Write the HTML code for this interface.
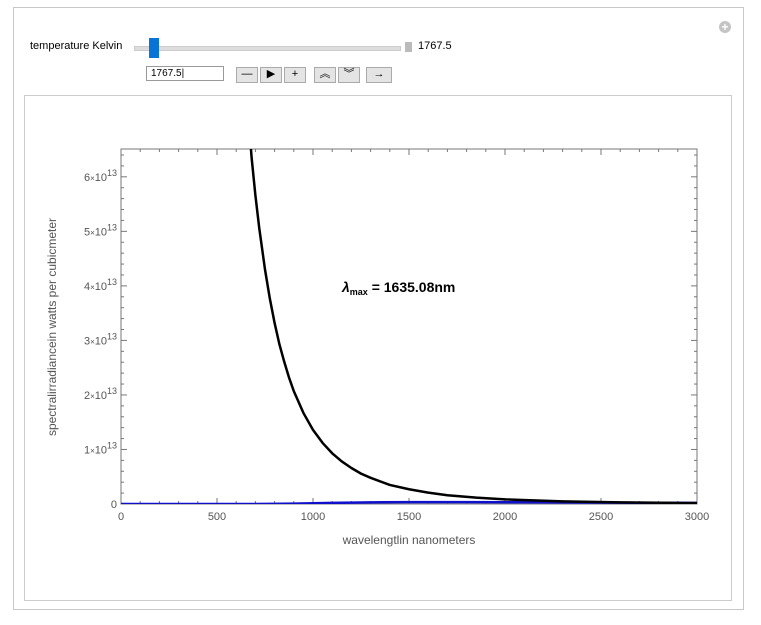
<!DOCTYPE html>
<html><head><meta charset="utf-8"><style>
body{margin:0;background:#fff;font-family:"Liberation Sans",sans-serif;}
#wrap{position:relative;width:761px;height:625px;overflow:hidden;}
.abs{position:absolute;}
.btn{position:absolute;top:67px;height:14px;background:#e4e4e4;border:1px solid #aaa;font-size:11px;line-height:13px;text-align:center;}
</style></head><body><div id="wrap">
<div class="abs" style="left:13px;top:7px;width:729px;height:601px;border:1px solid #c8c8c8;"></div>
<div class="abs" style="left:719px;top:21px;width:12px;height:12px;border-radius:6px;background:#c4c4c4;color:#fff;font-size:12px;line-height:12px;text-align:center;font-weight:bold">+</div>
<div class="abs" style="left:30px;top:40px;font-size:11px;">temperature Kelvin</div>
<div class="abs" style="left:134px;top:46px;width:265px;height:3px;background:#ddd;border:1px solid #ccc"></div>
<div class="abs" style="left:149px;top:38px;width:10px;height:20px;background:#0a74d6"></div>
<div class="abs" style="left:405px;top:42px;width:7px;height:10px;background:#bbb"></div>
<div class="abs" style="left:418px;top:40px;font-size:11px">1767.5</div>
<div class="abs" style="left:146px;top:66px;width:78px;border:1px solid #999;font-size:10px;line-height:14px;padding-left:4px;box-sizing:border-box;height:15px">1767.5|</div>
<div class="btn" style="left:236px;width:20px">—</div>
<div class="btn" style="left:260px;width:20px">▶</div>
<div class="btn" style="left:284px;width:20px">+</div>
<div class="btn" style="left:314px;width:20px">︽</div>
<div class="btn" style="left:338px;width:20px">︾</div>
<div class="btn" style="left:366px;width:24px">→</div>
<div class="abs" style="left:24px;top:95px;width:706px;height:504px;border:1px solid #ccc;"></div>
<svg class="abs" style="left:0;top:0" width="761" height="625" id="chart"></svg>
</div>
<script>
const waveRJ=[650,680,700,720,750,775,800,825,850,875,900,950,1000,1050,1100,1150,1200,1250,1300,1400,1500,1600,1700,1850,2000,2300,2600,3000];
const valRJ=[7.78,6.36,5.66,5.06,4.30,3.77,3.32,2.93,2.61,2.32,2.07,1.67,1.36,1.12,0.93,0.78,0.66,0.557,0.48,0.35,0.27,0.208,0.16,0.116,0.085,0.049,0.030,0.017];
const wavePl=[0,500,700,900,1100,1300,1500,1635,1800,2100,2400,2700,3000];
const valPl=[0,0,0.001,0.008,0.02,0.03,0.034,0.035,0.034,0.031,0.027,0.023,0.02];
const xTicks=[0,500,1000,1500,2000,2500,3000];
const yTicks=[0,1,2,3,4,5,6];
const X0=121,X1=697,Y0=504,YT=149,xMax=3000,yMax=6.51;
const sx=v=>X0+v/xMax*(X1-X0), sy=v=>Y0-v/yMax*(Y0-YT);
const svg=document.getElementById('chart');const NS='http://www.w3.org/2000/svg';
function mk(t,a,p){const e=document.createElementNS(NS,t);for(const k in a)e.setAttribute(k,a[k]);(p||svg).appendChild(e);return e;}
const defs=mk('defs',{});const cp=mk('clipPath',{id:'pc'},defs);mk('rect',{x:X0,y:YT,width:X1-X0,height:Y0-YT},cp);
const fr=mk('rect',{x:X0,y:YT,width:X1-X0,height:Y0-YT,fill:'none',stroke:'#777'});


for(let v=0;v<=3000;v+=100){const x=sx(v),l=v%500?3:6;mk('line',{x1:x,x2:x,y1:Y0,y2:Y0-l,stroke:'#777'});mk('line',{x1:x,x2:x,y1:YT,y2:YT+l,stroke:'#777'});}
for(let v=0;v<=6.5;v+=0.2){const y=sy(v),l=Math.abs(v-Math.round(v))<1e-6?6:3;mk('line',{x1:X0,x2:X0+l,y1:y,y2:y,stroke:'#777'});mk('line',{x1:X1,x2:X1-l,y1:y,y2:y,stroke:'#777'});}
xTicks.forEach(v=>{const t=mk('text',{x:sx(v),y:Y0+16,'text-anchor':'middle','font-size':11,fill:'#555'});t.textContent=v;

});
yTicks.forEach(v=>{const t=mk('text',{x:X0-4,y:sy(v)+4,'text-anchor':'end','font-size':11,fill:'#555'});


if(v===0)t.textContent='0';else{t.innerHTML=v+'<tspan font-size="8">×</tspan>10<tspan font-size="9" dy="-5">13</tspan>';}});
const xl=mk('text',{x:409,y:544,'text-anchor':'middle','font-size':12,fill:'#555'});xl.textContent='wavelengtlin nanometers';


const yl=mk('text',{x:0,y:0,'text-anchor':'middle','font-size':12,fill:'#555',transform:'translate(56,327) rotate(-90)'});yl.textContent='spectralirradiancein watts per cubicmeter';


const g=mk('g',{'clip-path':'url(#pc)'});
const pl=mk('polyline',{points:wavePl.map((w,i)=>sx(w)+','+sy(valPl[i])).join(' '),fill:'none',stroke:'#1010cc','stroke-width':2.5},g);


const rj=mk('path',{d:'M'+waveRJ.map((w,i)=>sx(w)+','+sy(valRJ[i])).join(' L'),fill:'none',stroke:'#000','stroke-width':2.5,'stroke-linejoin':'round'},g);


const lm=mk('text',{x:342,y:292,'font-size':14,'font-weight':'bold',fill:'#000'});lm.innerHTML='<tspan font-style="italic">λ</tspan><tspan font-size="9" dy="3">max</tspan><tspan dy="-3"> = 1635.08nm</tspan>';


</script></body></html>
